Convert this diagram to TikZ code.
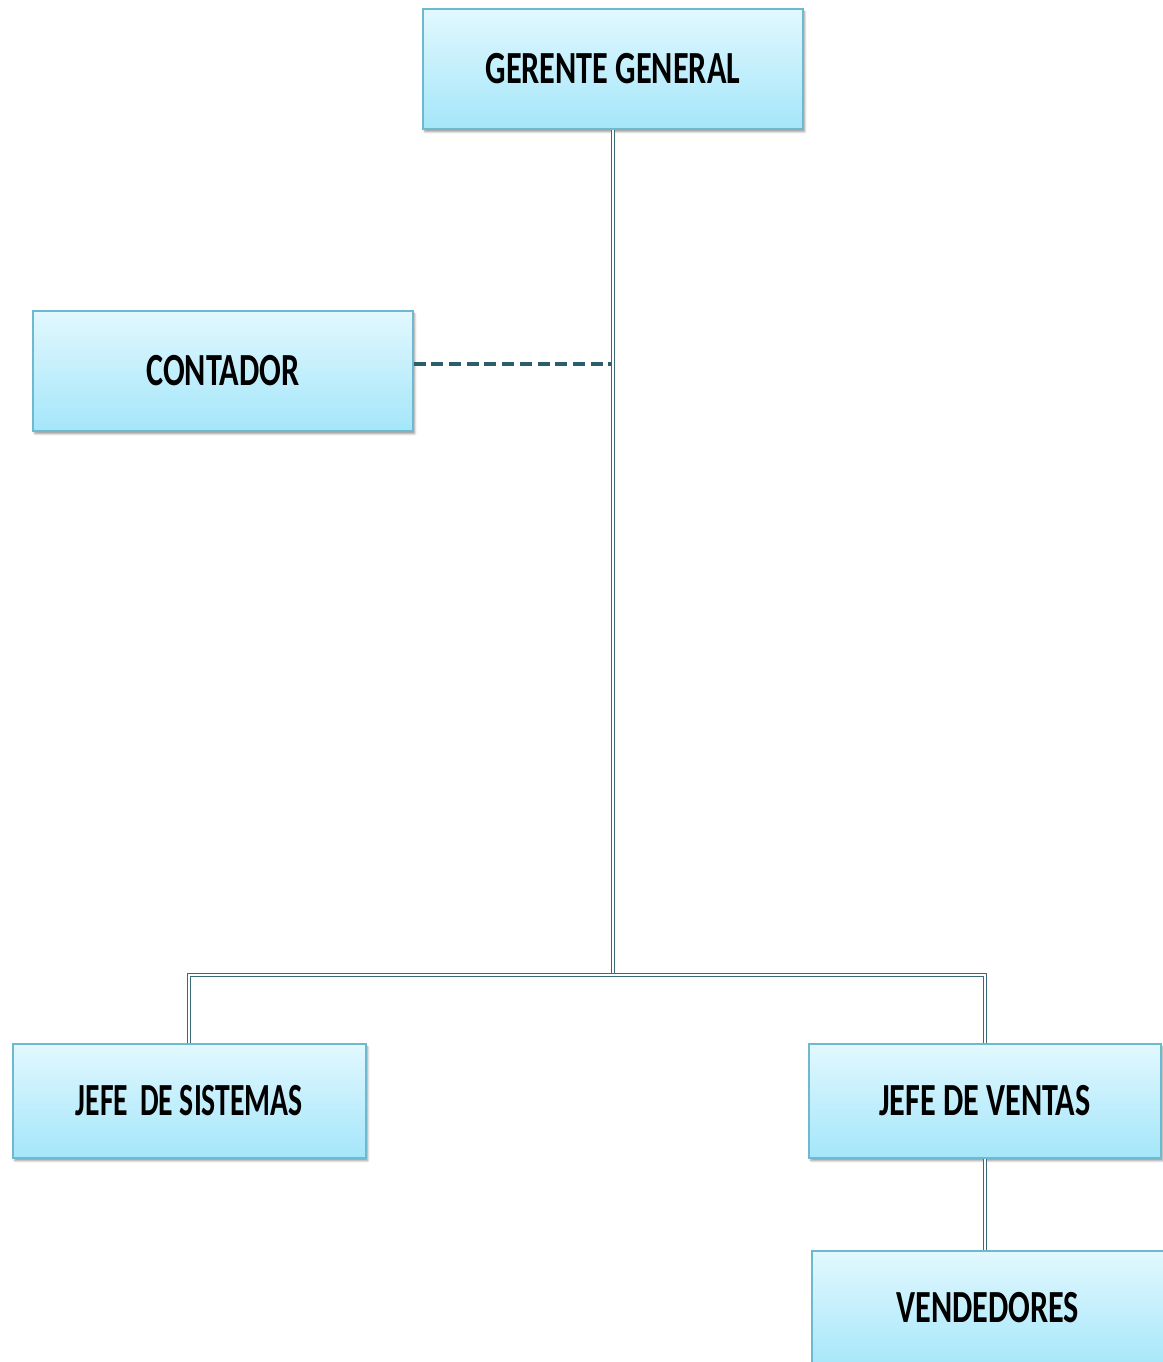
\documentclass[tikz,border=0pt]{standalone}
\usepackage{fontspec}
\setmainfont{Carlito}
\usetikzlibrary{shadows.blur}
\definecolor{boxtop}{HTML}{E2F8FE}
\definecolor{boxbot}{HTML}{A4E6FA}
\definecolor{boxedge}{HTML}{6DB9D0}
\definecolor{linkc}{HTML}{3A6A7A}
\definecolor{dashc}{HTML}{2B5D6C}
\newcommand{\postlabel}[1]{\scalebox{0.70}[1]{#1}}
\begin{document}
\begin{tikzpicture}[x=1pt,y=-1pt,
  post/.style={draw=boxedge, line width=1.6pt, top color=boxtop, bottom color=boxbot,
    minimum height=#1, inner sep=0pt, anchor=north west,
    blur shadow={shadow xshift=2pt, shadow yshift=-3pt, shadow blur steps=6, shadow opacity=40},
    font=\bfseries\fontsize{46}{46}\selectfont},
  post/.default=120pt,
  link/.style={draw=linkc, line width=1.6pt, double=white, double distance=1.6pt},
  dotted link/.style={draw=dashc, line width=3.6pt, dash pattern=on 12pt off 5.7pt}]
\useasboundingbox (0,0) rectangle (1162,1362);
\node[post, minimum width=380pt] (gg) at (422,8) {\postlabel{GERENTE GENERAL}};
\node[post, minimum width=380pt] (ct) at (32,310) {\postlabel{CONTADOR}};
\node[post=114pt, minimum width=353pt] (js) at (12,1043) {\scalebox{0.645}[1]{JEFE\hspace{0.4em}DE SISTEMAS}};
\node[post=114pt, minimum width=352pt] (jv) at (808,1043) {\postlabel{JEFE DE VENTAS}};
\node[post=120pt, minimum width=352pt, text depth=0pt] (vd) at (811,1250) {\raisebox{6pt}{\postlabel{VENDEDORES}}};
% branch point of the tree
\coordinate (hub) at (613,975);
\coordinate (tap) at (611,364);
\draw[link] (gg.south -| hub) -- (hub);
\draw[link] (hub) -| (js.north -| 189,0);
\draw[link] (hub) -| (jv.north -| 985,0);
\draw[link] (jv.south -| 985,0) -- (vd.north -| 985,0);
\draw[dotted link] (ct.east |- tap) -- (tap);
\end{tikzpicture}
\end{document}
